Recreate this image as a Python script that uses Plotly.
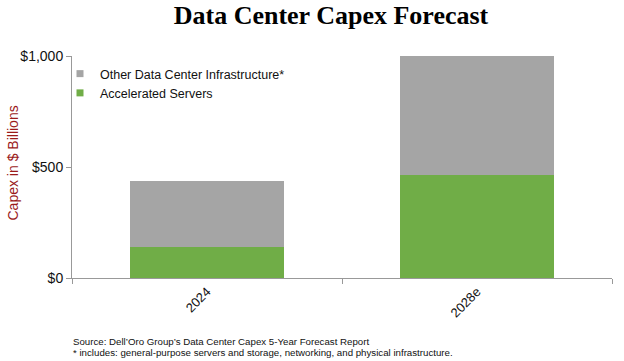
import plotly.graph_objects as go

categories = ["2024", "2028e"]
accelerated = [140, 464]
other = [297, 536]
y_ticks = [0, 500, 1000]
y_tick_labels = ["$0", "$500", "$1,000"]

W, H = 624, 361
ml, mr, mt, mb = 72, 12, 56, 83
PW, PH = W - ml - mr, H - mt - mb

def px_x(px):
    return (px - ml) / PW

def px_y(py):
    return 1 - (py - mt) / PH

GREEN, GRAY = "#70AD47", "#A5A5A5"

fig = go.Figure()
fig.add_trace(go.Bar(x=categories, y=accelerated, name="Accelerated Servers",
                     marker=dict(color=GREEN, line=dict(width=0)), width=0.57,
                     showlegend=False))
fig.add_trace(go.Bar(x=categories, y=other, name="Other Data Center Infrastructure*",
                     marker=dict(color=GRAY, line=dict(width=0)), width=0.57,
                     showlegend=False))
# legend entries with small square swatches
fig.add_trace(go.Scatter(x=[None], y=[None], mode="markers", name="Accelerated Servers",
                         marker=dict(symbol="square", size=7, color=GREEN)))
fig.add_trace(go.Scatter(x=[None], y=[None], mode="markers",
                         name="Other Data Center Infrastructure*",
                         marker=dict(symbol="square", size=7, color=GRAY)))

fig.update_layout(
    width=W, height=H,
    margin=dict(l=ml, r=mr, t=mt, b=mb, autoexpand=False),
    barmode="stack",
    plot_bgcolor="white", paper_bgcolor="white",
    font=dict(family="Liberation Sans, Arial", size=13, color="#222"),
    title=dict(text="<b>Data Center Capex Forecast</b>", x=331/W, xanchor="center",
               y=1 - 15/H, yanchor="middle", automargin=False,
               font=dict(family="Liberation Serif, Times New Roman", size=26, color="black")),
    showlegend=True,
    legend=dict(x=px_x(60), y=px_y(59), xanchor="left", yanchor="top",
                traceorder="reversed", bgcolor="rgba(0,0,0,0)",
                font=dict(size=12.5, color="#111"), itemwidth=30, tracegroupgap=0),
    xaxis=dict(showline=True, linecolor="#999", linewidth=1, automargin=False,
               ticks="outside", tickson="boundaries", ticklen=5, tickcolor="#999",
               tickangle=-45, tickfont=dict(size=13, color="#111"), showgrid=False,
               range=[-0.5, 1.5]),
    yaxis=dict(range=[0, 1000], tickvals=y_ticks, ticktext=y_tick_labels, automargin=False,
               showline=True, linecolor="#999", linewidth=1,
               ticks="outside", ticklen=5, tickcolor="#999", showgrid=False,
               zeroline=False, tickfont=dict(size=14, color="#111")),
    annotations=[
        dict(text="Capex in $ Billions", xref="paper", yref="paper",
             x=px_x(12.5), y=px_y(163), xanchor="center", yanchor="middle",
             textangle=-90, showarrow=False, font=dict(size=14, color="#9B1B1B")),
        dict(text="Source: Dell’Oro Group’s Data Center Capex 5-Year Forecast Report",
             xref="paper", yref="paper", x=px_x(71), y=px_y(341),
             xanchor="left", yanchor="middle",
             align="left", showarrow=False, font=dict(size=9.7, color="#111")),
        dict(text="* includes: general-purpose servers and storage, networking, and physical infrastructure.",
             xref="paper", yref="paper", x=px_x(71), y=px_y(352),
             xanchor="left", yanchor="middle",
             align="left", showarrow=False, font=dict(size=9.7, color="#111")),
    ],
)

fig.write_html("out.html", config={"displayModeBar": False},
               post_script="document.body.style.margin='0';document.body.style.overflow='hidden';")
